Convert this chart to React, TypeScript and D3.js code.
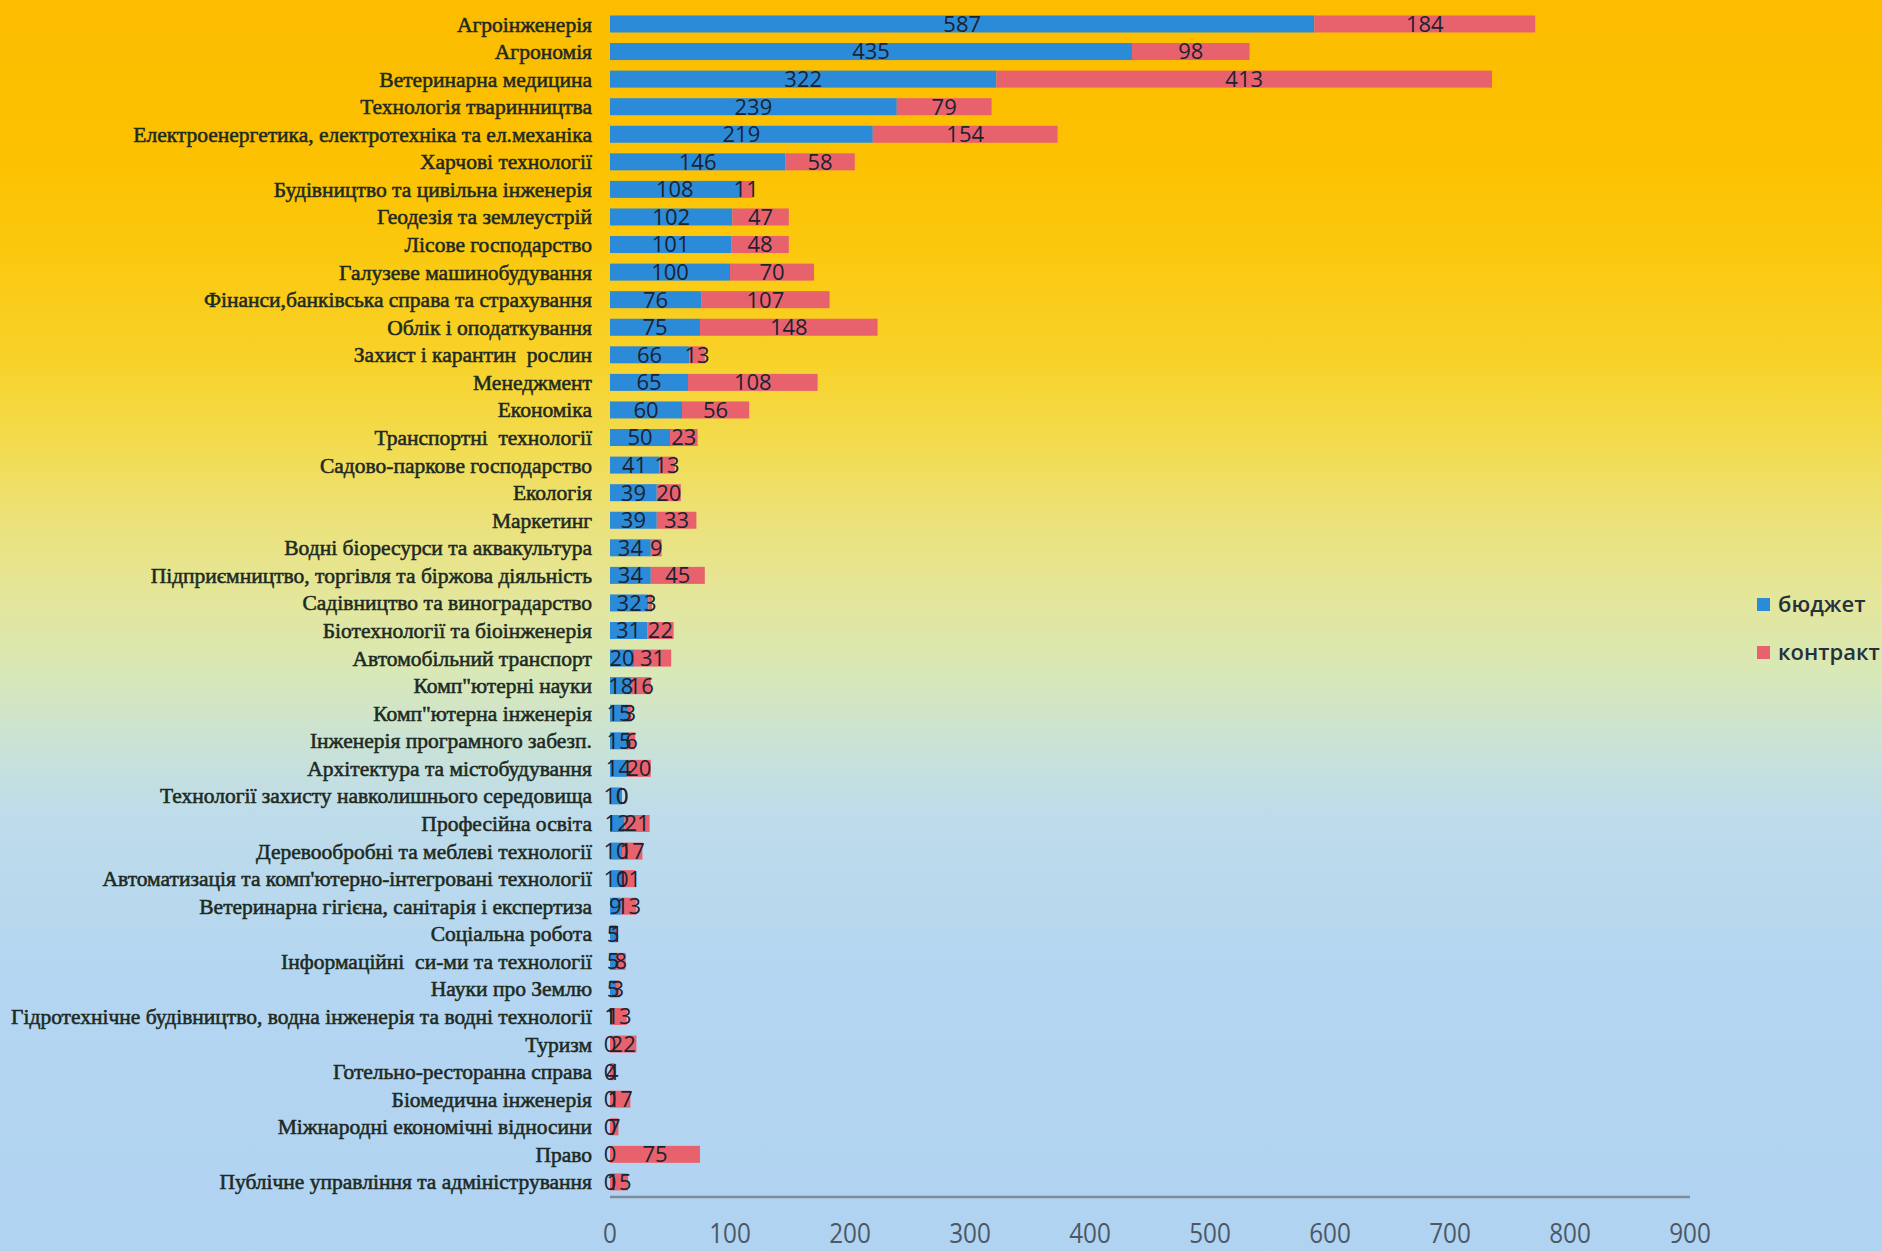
import React from "react";
import * as d3 from "d3";

const categories = [
  "Агроінженерія",
  "Агрономія",
  "Ветеринарна медицина",
  "Технологія тваринництва",
  "Електроенергетика, електротехніка та ел.механіка",
  "Харчові технології",
  "Будівництво та цивільна інженерія",
  "Геодезія та землеустрій",
  "Лісове господарство",
  "Галузеве машинобудування",
  "Фінанси,банківська справа та страхування",
  "Облік і оподаткування",
  "Захист і карантин  рослин",
  "Менеджмент",
  "Економіка",
  "Транспортні  технології",
  "Садово-паркове господарство",
  "Екологія",
  "Маркетинг",
  "Водні біоресурси та аквакультура",
  "Підприємництво, торгівля та біржова діяльність",
  "Садівництво та виноградарство",
  "Біотехнології та біоінженерія",
  "Автомобільний транспорт",
  "Комп\"ютерні науки",
  "Комп\"ютерна інженерія",
  "Інженерія програмного забезп.",
  "Архітектура та містобудування",
  "Технології захисту навколишнього середовища",
  "Професійна освіта",
  "Деревообробні та меблеві технології",
  "Автоматизація та комп'ютерно-інтегровані технології",
  "Ветеринарна гігієна, санітарія і експертиза",
  "Соціальна робота",
  "Інформаційні  си-ми та технології",
  "Науки про Землю",
  "Гідротехнічне будівництво, водна інженерія та водні технології",
  "Туризм",
  "Готельно-ресторанна справа",
  "Біомедична інженерія",
  "Міжнародні економічні відносини",
  "Право",
  "Публічне управління та адміністрування",
];

const budget = [
  587, 435, 322, 239, 219, 146, 108, 102, 101, 100, 76, 75, 66, 65, 60, 50, 41,
  39, 39, 34, 34, 32, 31, 20, 18, 15, 15, 14, 10, 12, 10, 10, 9, 5, 5, 5, 1, 0,
  0, 0, 0, 0, 0,
];

const contract = [
  184, 98, 413, 79, 154, 58, 11, 47, 48, 70, 107, 148, 13, 108, 56, 23, 13, 20,
  33, 9, 45, 3, 22, 31, 16, 3, 6, 20, 0, 21, 17, 11, 13, 1, 8, 3, 13, 22, 4, 17,
  7, 75, 15,
];

const xTicks = [0, 100, 200, 300, 400, 500, 600, 700, 800, 900];

const seriesNames = ["бюджет", "контракт"];
const seriesColors = ["#2c8bd8", "#e8626e"];

const W = 1882;
const H = 1251;

export default function App() {
  const x = d3.scaleLinear().domain([0, 900]).range([610, 1690]);
  const y = d3
    .scaleBand<string>()
    .domain(categories)
    .range([10.2, 1195.7])
    .paddingInner(0.383)
    .paddingOuter(0.1915);
  const bw = y.bandwidth();

  const rows = categories.map((c, i) => ({
    c,
    b: budget[i],
    k: contract[i],
  }));

  const labelFont = "'Liberation Serif', 'Times New Roman', serif";
  const numFont = "'Open Sans', 'DejaVu Sans', sans-serif";

  return (
    <div style={{ position: "absolute", left: 0, top: 0, width: W, height: H }}>
      <svg width={W} height={H} style={{ display: "block" }}>
        <defs>
          <linearGradient id="bg" x1="0" y1="0" x2="0" y2="1">
            <stop offset="0" stopColor="#fcbd00" />
            <stop offset="0.12" stopColor="#fcc100" />
            <stop offset="0.2" stopColor="#fbc80e" />
            <stop offset="0.29" stopColor="#f8d22a" />
            <stop offset="0.36" stopColor="#f2dc52" />
            <stop offset="0.42" stopColor="#ebe27c" />
            <stop offset="0.48" stopColor="#e3e69c" />
            <stop offset="0.54" stopColor="#d8e8b8" />
            <stop offset="0.59" stopColor="#cbe3d4" />
            <stop offset="0.65" stopColor="#bedcea" />
            <stop offset="0.77" stopColor="#b5d6f1" />
            <stop offset="1" stopColor="#b0d3f2" />
          </linearGradient>
        </defs>
        <rect x={0} y={0} width={W} height={H} fill="url(#bg)" />

        {/* category labels */}
        {rows.map((r) => (
          <text
            key={"l" + r.c}
            x={592}
            y={(y(r.c) as number) + bw / 2}
            dy="0.35em"
            textAnchor="end"
            fontFamily={labelFont}
            fontSize={21.5}
            fill="#1d2a22"
            stroke="#1d2a22"
            strokeWidth={0.55}
            style={{ whiteSpace: "pre" }}
          >
            {r.c}
          </text>
        ))}

        {/* bars */}
        {rows.map((r) => (
          <g key={"b" + r.c}>
            <rect
              x={x(0)}
              y={y(r.c) as number}
              width={x(r.b) - x(0)}
              height={bw}
              fill={seriesColors[0]}
            />
            <rect
              x={x(r.b)}
              y={y(r.c) as number}
              width={x(r.b + r.k) - x(r.b)}
              height={bw}
              fill={seriesColors[1]}
            />
          </g>
        ))}

        {/* value labels */}
        {rows.map((r) => (
          <g key={"v" + r.c} fontFamily={numFont} fontSize={22} fill="#1c2230">
            <text
              x={(x(0) + x(r.b)) / 2}
              y={(y(r.c) as number) + bw / 2}
              dy="0.36em"
              textAnchor="middle"
            >
              {r.b}
            </text>
            <text
              x={(x(r.b) + x(r.b + r.k)) / 2}
              y={(y(r.c) as number) + bw / 2}
              dy="0.36em"
              textAnchor="middle"
            >
              {r.k}
            </text>
          </g>
        ))}

        {/* x axis */}
        <line
          x1={x(0)}
          x2={x(900)}
          y1={1197}
          y2={1197}
          stroke="#7e8c9a"
          strokeWidth={2.5}
        />
        {xTicks.map((t) => (
          <text
            key={"t" + t}
            x={x(t)}
            y={1233}
            dy="0.36em"
            textAnchor="middle"
            fontFamily={numFont}
            fontSize={27}
            fill="#4c5865"
            transform={`translate(${x(t)},0) scale(0.9,1) translate(${-x(t)},0)`}
          >
            {t}
          </text>
        ))}

        {/* legend */}
        {seriesNames.map((s, i) => (
          <g key={"lg" + s}>
            <rect
              x={1757}
              y={598 + i * 48}
              width={13}
              height={13}
              fill={seriesColors[i]}
            />
            <text
              x={1778}
              y={604.5 + i * 48}
              dy="0.36em"
              fontFamily={numFont}
              fontSize={22}
              fontWeight={600}
              fill="#25303c"
            >
              {s}
            </text>
          </g>
        ))}
      </svg>
    </div>
  );
}
